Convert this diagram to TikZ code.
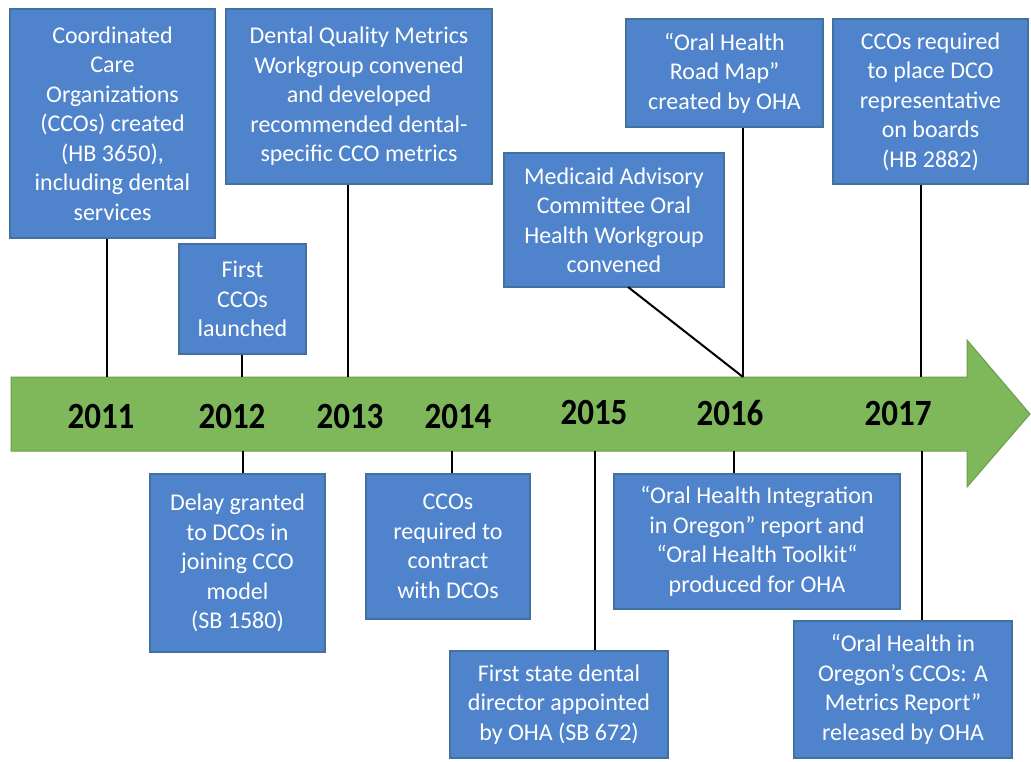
\documentclass[tikz,border=0pt]{standalone}
\usepackage{fontspec}
\setmainfont{Carlito}
\definecolor{boxfill}{HTML}{4F83CC}
\definecolor{boxborder}{HTML}{41719C}
\definecolor{tlgreen}{HTML}{7EB85A}
\definecolor{tlborder}{HTML}{6B9E4A}
\newcommand{\yr}[1]{\scalebox{1}[1.12]{#1}}
\begin{document}
\begin{tikzpicture}[x=1pt,y=-1pt,
  evbox/.style={draw=boxborder, fill=boxfill, text=white, align=center, inner sep=0pt, line width=1.2pt,
    font=\fontsize{24}{29.5}\selectfont},
  year/.style={text=black, font=\fontsize{33}{36}\selectfont\bfseries, inner sep=0pt},
  link/.style={draw=black, line width=2pt}]
\useasboundingbox (0,0) rectangle (1031,761);
\fill[white] (0,0) rectangle (1031,761);

% timeline arrow
\draw[fill=tlgreen, draw=tlborder, line width=1pt]
  (11,377) -- (967,377) -- (967,340) -- (1030,414) -- (967,487) -- (967,451) -- (11,451) -- cycle;

% years
\node[year] (y11) at (101,416) {\yr{2011}};
\node[year] (y12) at (232,416) {\yr{2012}};
\node[year] (y13) at (350,416) {\yr{2013}};
\node[year] (y14) at (458,417) {\yr{2014}};
\node[year] (y15) at (594,412) {\yr{2015}};
\node[year] (y16) at (730,413) {\yr{2016}};
\node[year] (y17) at (898,413) {\yr{2017}};

% boxes above
\node[evbox, minimum width=205, minimum height=229] (b1) at (112.5,123.5)
  {Coordinated\\Care\\Organizations\\(CCOs) created\\(HB 3650),\\including dental\\services};
\node[evbox, minimum width=127, minimum height=110] (b2) at (242.5,299)
  {First\\CCOs\\launched};
\node[evbox, minimum width=266, minimum height=175] (b3) at (359,96.5)
  {Dental Quality Metrics\\Workgroup convened\\and developed\\recommended dental-\\specific CCO metrics};
\node[evbox, minimum width=220, minimum height=134] (b7) at (614,220)
  {Medicaid Advisory\\Committee Oral\\Health Workgroup\\convened};
\node[evbox, minimum width=197, minimum height=108] (b8) at (724.5,73)
  {“Oral Health\\Road Map”\\created by OHA};
\node[evbox, minimum width=195, minimum height=165] (b9) at (930.5,101.5)
  {CCOs required\\to place DCO\\representative\\on boards\\(HB 2882)};

% boxes below
\node[evbox, minimum width=175, minimum height=178] (b4) at (237.5,563)
  {Delay granted\\to DCOs in\\joining CCO\\model\\(SB 1580)};
\node[evbox, minimum width=164, minimum height=145] (b5) at (448,546.5)
  {CCOs\\required to\\contract\\with DCOs};
\node[evbox, minimum width=218, minimum height=107] (b6) at (559,704.5)
  {First state dental\\director appointed\\by OHA (SB 672)};
\node[evbox, minimum width=286, minimum height=135] (b10) at (757,541.5)
  {“Oral Health Integration\\in Oregon” report and\\“Oral Health Toolkit“\\produced for OHA};
\node[evbox, minimum width=218, minimum height=137] (b11) at (903,689.5)
  {“Oral Health in\\Oregon’s CCOs: A\\Metrics Report”\\released by OHA};

% attachment points on timeline
\coordinate (u11) at (107,377);
\coordinate (u12) at (242,377);
\coordinate (u13) at (348,377);
\coordinate (u16) at (743,377);
\coordinate (u17) at (921,377);
\coordinate (d12) at (243,451);
\coordinate (d14) at (452,451);
\coordinate (d15) at (595,451);
\coordinate (d16) at (734,451);
\coordinate (d17) at (922,451);
\coordinate (m7) at (628,287);

% connectors
\draw[link] (u11 |- b1.south) -- (u11);
\draw[link] (u12 |- b2.south) -- (u12);
\draw[link] (u13 |- b3.south) -- (u13);
\draw[link] (m7) -- (u16);
\draw[link] (u16 |- b8.south) -- (u16);
\draw[link] (u17 |- b9.south) -- (u17);
\draw[link] (d12) -- (d12 |- b4.north);
\draw[link] (d14) -- (d14 |- b5.north);
\draw[link] (d15) -- (d15 |- b6.north);
\draw[link] (d16) -- (d16 |- b10.north);
\draw[link] (d17) -- (d17 |- b11.north);
\end{tikzpicture}
\end{document}
